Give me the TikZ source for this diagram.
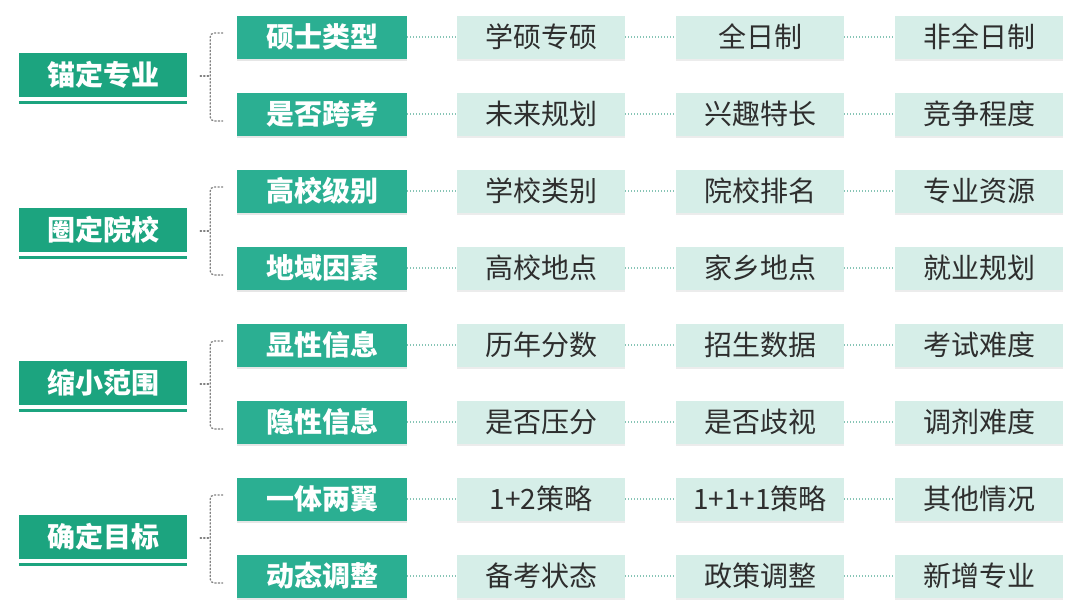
\documentclass[tikz,border=0pt]{standalone}
\usepackage{fontspec}
\setmainfont{Noto Sans CJK SC}
\usepackage{xcolor}
\usetikzlibrary{calc, shadows}

\definecolor{topgreen}{HTML}{1CA47F}
\definecolor{subgreen}{HTML}{2BAF92}
\definecolor{leafbg}{HTML}{D6EEE8}
\definecolor{dotline}{HTML}{86C4B5}

\tikzset{
  topbox/.style={fill=topgreen, text=white, minimum width=168pt, minimum height=44pt,
    inner sep=0pt, font=\fontsize{28}{32}\selectfont\bfseries},
  subbox/.style={fill=subgreen, text=white, minimum width=170pt, minimum height=43pt,
    inner sep=0pt, font=\fontsize{28}{32}\selectfont\bfseries,
    drop shadow={shadow xshift=0pt, shadow yshift=-2pt, opacity=0.2}},
  leafbox/.style={fill=leafbg, text=black!82, minimum width=168pt, minimum height=43pt,
    inner sep=0pt, font=\fontsize{28}{32}\selectfont,
    drop shadow={shadow xshift=0pt, shadow yshift=-2pt, opacity=0.15}},
  link/.style={draw=dotline, line width=1.2pt, dash pattern=on 1pt off 2pt},
  brace/.style={draw=black!50, line width=1.3pt, dash pattern=on 1.3pt off 2.2pt,
    line cap=round, rounded corners=4pt}
}

\begin{document}
\begin{tikzpicture}[x=1pt, y=-1pt]
\useasboundingbox (0,0) rectangle (1080,613);

% left column
\node[topbox] (g1) at (103,75) {锚定专业};
\node[topbox] (g2) at (103,230) {圈定院校};
\node[topbox] (g3) at (103,383) {缩小范围};
\node[topbox] (g4) at (103,537) {确定目标};
\foreach \g in {1,...,4}
\draw [topgreen, line width=3pt] ($(g\g.south west)+(0,5)$) -- ($(g\g.south east)+(0,5)$);

% rows
\foreach \r/\y/\b/\c/\d/\e in {
  1/37/硕士类型/学硕专硕/全日制/非全日制,
  2/114/是否跨考/未来规划/兴趣特长/竞争程度,
  3/191/高校级别/学校类别/院校排名/专业资源,
  4/268/地域因素/高校地点/家乡地点/就业规划,
  5/345/显性信息/历年分数/招生数据/考试难度,
  6/422/隐性信息/是否压分/是否歧视/调剂难度,
  7/499/一体两翼/1+2策略/1+1+1策略/其他情况,
  8/576/动态调整/备考状态/政策调整/新增专业}
{
  \node[subbox] (s\r) at (322,\y) {\b};
  \node[leafbox] (a\r) at (541,\y) {\c};
  \node[leafbox] (b\r) at (760,\y) {\d};
  \node[leafbox] (c\r) at (979,\y) {\e};
  \draw[link] (s\r) -- (a\r);
  \draw[link] (a\r) -- (b\r);
  \draw[link] (b\r) -- (c\r);
}

% brackets
\foreach \g/\p/\q in {1/1/2, 2/3/4, 3/5/6, 4/7/8} {
  \coordinate (m\g) at ($(g\g.east)+(23,1)$);
  \draw[brace] ($(g\g.east)+(13,1)$) -- (m\g);
  \draw[brace] ($(s\p.west)+(-14,-4)$) -| (m\g) |- ($(s\q.west)+(-14,7)$);
}
\end{tikzpicture}
\end{document}
